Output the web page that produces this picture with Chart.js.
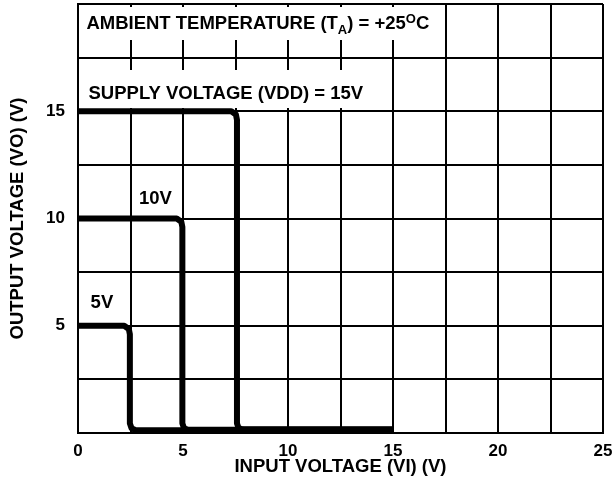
<!DOCTYPE html>
<html>
<head>
<meta charset="utf-8">
<script src="https://cdn.jsdelivr.net/npm/chart.js@4/dist/chart.umd.min.js"></script>
<style>
  html, body { margin: 0; padding: 0; background: #fff; }
  #wrap { width: 612px; height: 484px; }
</style>
</head>
<body>
<div id="wrap"><canvas id="canvasTransfer"></canvas></div>
<script>
// transfer curves, input voltage (x) vs output voltage (y)
var vdd5_x  = [0, 2.2, 2.42, 2.47, 2.47, 2.55, 2.75, 15];
var vdd5_y  = [5, 5, 4.85, 4.6, 0.45, 0.22, 0.13, 0.13];
var vdd10_x = [0, 4.7, 4.92, 4.97, 4.97, 5.05, 5.25, 15];
var vdd10_y = [10, 10, 9.85, 9.6, 0.45, 0.22, 0.15, 0.15];
var vdd15_x = [0, 7.3, 7.52, 7.57, 7.57, 7.65, 7.85, 15];
var vdd15_y = [15, 15, 14.85, 14.6, 0.45, 0.22, 0.17, 0.17];

var xTickLabels = [0, 5, 10, 15, 20, 25];
var yTickLabels = [5, 10, 15];

var FONT = '"Liberation Sans", Arial, sans-serif';

function toPoints(xs, ys){
    var pts = [];
    for (var i = 0; i < xs.length; i++) {
        pts.push({x: xs[i], y: ys[i]});
    }
    return pts;
}

function createDataSet(strlabel, xs, ys){
    return {
        label: strlabel,
        data: toPoints(xs, ys),
        borderColor: '#000',
        borderWidth: 6,
        borderJoinStyle: 'round',
        borderCapStyle: 'butt',
        pointRadius: 0,
        fill: false,
        tension: 0
    };
}

// text drawn on the plot, white box behind the two top notes
var notesPlugin = {
    id: 'notes',
    beforeDatasetsDraw: function(chart){
        var ctx = chart.ctx;
        var xs = chart.scales.x, ys = chart.scales.y;
        var top = chart.chartArea.top;
        ctx.save();
        ctx.fillStyle = '#fff';
        ctx.fillRect(xs.left + 2, top + 3, 350, 33);
        ctx.fillRect(xs.left + 2, top + 66, 292, 38);

        ctx.fillStyle = '#000';
        ctx.textBaseline = 'alphabetic';
        ctx.textAlign = 'left';
        var big = 'bold 18.5px ' + FONT;
        var small = 'bold 13px ' + FONT;

        var x = xs.getPixelForValue(0.4);
        var y = top + 25;
        var parts = [
            ['AMBIENT TEMPERATURE (T', big, 0],
            ['A', small, 5],
            [') = +25', big, 0],
            ['O', small, -6],
            ['C', big, 0]
        ];
        parts.forEach(function(p){
            ctx.font = p[1];
            ctx.fillText(p[0], x, y + p[2]);
            x += ctx.measureText(p[0]).width;
        });

        ctx.font = big;
        ctx.fillText('SUPPLY VOLTAGE (VDD) = 15V', xs.getPixelForValue(0.5), top + 95);
        ctx.fillText('10V', xs.getPixelForValue(2.9), top + 200);
        ctx.fillText('5V', xs.getPixelForValue(0.6), top + 304);
        ctx.restore();
    }
};

function createTransferChart(canvas){
    var ctx = document.getElementById(canvas).getContext('2d');
    var datasets = [
        createDataSet('5V', vdd5_x, vdd5_y),
        createDataSet('10V', vdd10_x, vdd10_y),
        createDataSet('15V', vdd15_x, vdd15_y)
    ];
    return new Chart(ctx, {
        type: 'line',
        data: { datasets: datasets },
        plugins: [notesPlugin],
        options: {
            responsive: true,
            maintainAspectRatio: false,
            animation: false,
            layout: { padding: { top: 4, right: 0, left: 0, bottom: 0 } },
            plugins: {
                legend: { display: false },
                tooltip: { enabled: false }
            },
            scales: {
                x: {
                    type: 'linear',
                    min: 0,
                    max: 25,
                    afterFit: function(scale){
                        scale.height = 51;
                        scale.paddingLeft = 0;
                        scale.paddingRight = 9;
                    },
                    ticks: {
                        stepSize: 2.5,
                        maxRotation: 0,
                        autoSkip: false,
                        padding: 8,
                        color: '#000',
                        font: { family: FONT, size: 17, weight: 'bold' },
                        callback: function(v){ return xTickLabels.indexOf(v) >= 0 ? String(v) : ''; }
                    },
                    grid: { color: '#000', lineWidth: 2, drawTicks: false },
                    border: { color: '#000', width: 2 },
                    title: {
                        display: true,
                        text: 'INPUT VOLTAGE (VI) (V)',
                        color: '#000',
                        font: { family: FONT, size: 18.5, weight: 'bold' },
                        padding: { top: 0, bottom: 6 }
                    }
                },
                y: {
                    type: 'linear',
                    min: 0,
                    max: 20,
                    afterFit: function(scale){
                        scale.width = 78;
                        scale.paddingTop = 0;
                        scale.paddingBottom = 0;
                    },
                    ticks: {
                        stepSize: 2.5,
                        autoSkip: false,
                        padding: 13,
                        color: '#000',
                        font: { family: FONT, size: 17, weight: 'bold' },
                        callback: function(v){ return yTickLabels.indexOf(v) >= 0 ? String(v) : ''; }
                    },
                    grid: { color: '#000', lineWidth: 2, drawTicks: false },
                    border: { color: '#000', width: 2 },
                    title: {
                        display: true,
                        text: 'OUTPUT VOLTAGE (VO) (V)',
                        color: '#000',
                        font: { family: FONT, size: 18.5, weight: 'bold' },
                        padding: { top: 7, bottom: 0 }
                    }
                }
            }
        }
    });
}

var transferChart = createTransferChart('canvasTransfer');
</script>
</body>
</html>
